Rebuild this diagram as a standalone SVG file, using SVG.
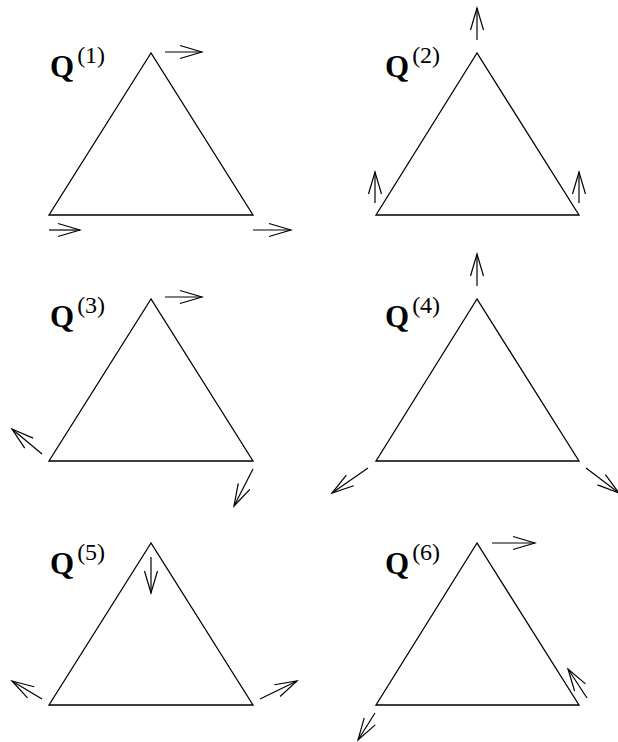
<svg xmlns="http://www.w3.org/2000/svg" width="618" height="742" viewBox="0 0 618 742">
<style>
.tri{fill:none;stroke:#000;stroke-width:1.3;stroke-linejoin:miter}
.arr{fill:none;stroke:#000;stroke-width:1.2;marker-end:url(#ah)}
.q{font-family:"Liberation Serif",serif;font-weight:bold;font-size:31px;fill:#000}
.s{font-family:"Liberation Serif",serif;font-weight:normal;font-size:24px;fill:#000}
</style>
<defs>
<marker id="ah" markerUnits="userSpaceOnUse" orient="auto" viewBox="-25 -9 27 18" markerWidth="27" markerHeight="18" refX="0" refY="0">
<path d="M-22,-6.5 L0,0 L-22,6.5" fill="none" stroke="#000" stroke-width="1.2"/>
</marker>
</defs>
<rect width="618" height="742" fill="#fff"/>
<g id="q1">
<polygon class="tri" points="151,53 49,215 253,215"/>
<text x="50" y="77" class="q">Q<tspan class="s" dx="3" dy="-14">(1)</tspan></text>
</g>
<g id="q2">
<polygon class="tri" points="477,53 376,215 579,215"/>
<text x="385" y="77" class="q">Q<tspan class="s" dx="3" dy="-14">(2)</tspan></text>
</g>
<g id="q3">
<polygon class="tri" points="151,299 49,461 253,461"/>
<text x="50" y="327" class="q">Q<tspan class="s" dx="3" dy="-14">(3)</tspan></text>
</g>
<g id="q4">
<polygon class="tri" points="477,299 376,461 579,461"/>
<text x="385" y="327" class="q">Q<tspan class="s" dx="3" dy="-14">(4)</tspan></text>
</g>
<g id="q5">
<polygon class="tri" points="151,543 49,705 253,705"/>
<text x="50" y="574" class="q">Q<tspan class="s" dx="3" dy="-14">(5)</tspan></text>
</g>
<g id="q6">
<polygon class="tri" points="477,543 376,705 579,705"/>
<text x="385" y="574" class="q">Q<tspan class="s" dx="3" dy="-14">(6)</tspan></text>
</g>
<g id="connectors">
<line class="arr" x1="165" y1="52" x2="202" y2="52"/>
<line class="arr" x1="49" y1="230" x2="80" y2="230"/>
<line class="arr" x1="253" y1="230" x2="291" y2="230"/>
<line class="arr" x1="477" y1="40" x2="477" y2="8"/>
<line class="arr" x1="375" y1="203" x2="375" y2="172"/>
<line class="arr" x1="579" y1="203" x2="579" y2="172"/>
<line class="arr" x1="165" y1="297" x2="202" y2="297"/>
<line class="arr" x1="42" y1="454" x2="12" y2="429"/>
<line class="arr" x1="253" y1="469" x2="234" y2="506"/>
<line class="arr" x1="477" y1="286" x2="477" y2="254"/>
<line class="arr" x1="368" y1="468" x2="332" y2="493"/>
<line class="arr" x1="586" y1="468" x2="619" y2="493"/>
<line class="arr" x1="151" y1="557" x2="151" y2="593"/>
<line class="arr" x1="42" y1="699" x2="12" y2="681"/>
<line class="arr" x1="260" y1="699" x2="297" y2="681"/>
<line class="arr" x1="492" y1="543" x2="535" y2="543"/>
<line class="arr" x1="587" y1="698" x2="568" y2="669"/>
<line class="arr" x1="375" y1="713" x2="358" y2="740"/>
</g>
</svg>
